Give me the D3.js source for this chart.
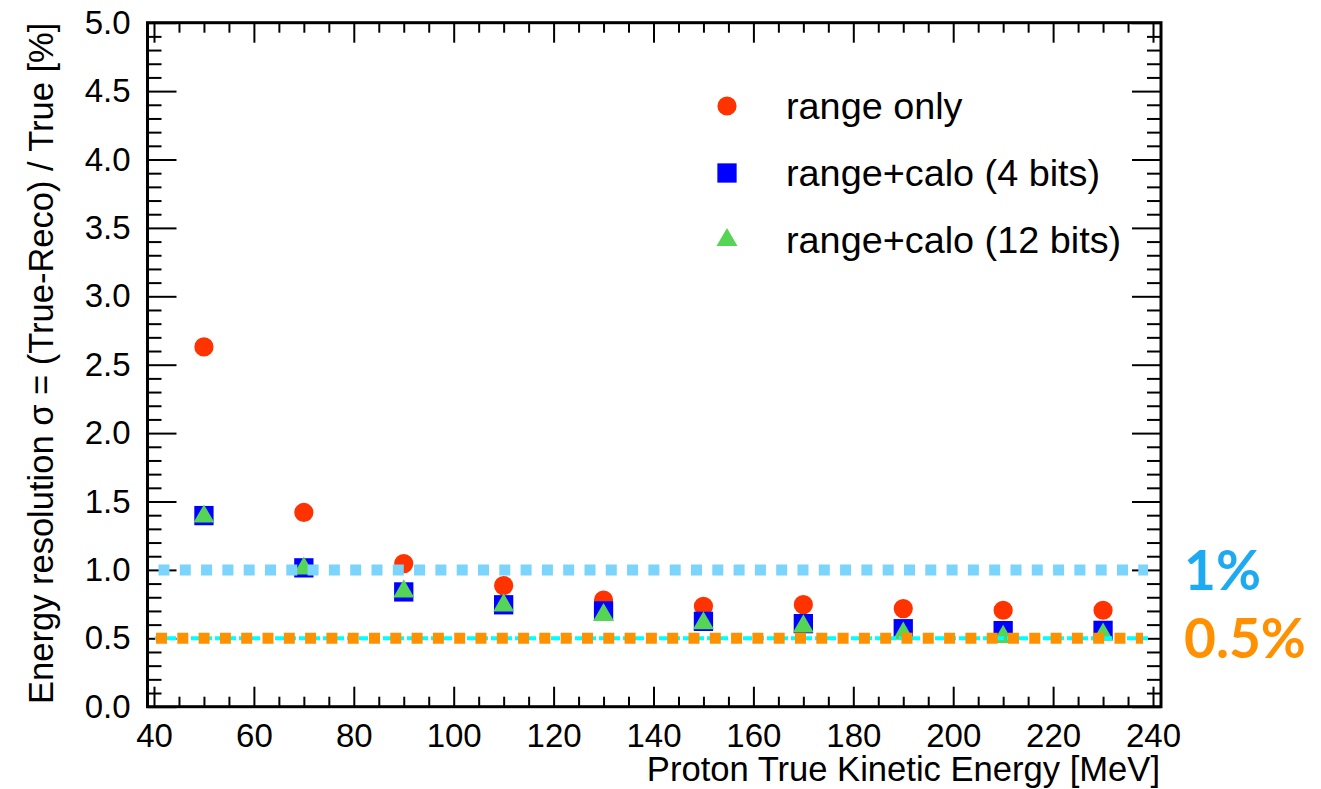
<!DOCTYPE html>
<html>
<head>
<meta charset="utf-8">
<script src="https://cdn.jsdelivr.net/npm/d3@7"></script>
<style>
  body { margin: 0; background: #fff; }
  svg { display: block; font-family: "Liberation Sans", Arial, sans-serif; }
</style>
</head>
<body>
<div id="chart"></div>
<script>
// Data
const energies = [50, 70, 90, 110, 130, 150, 170, 190, 210, 230];
const rangeOnly = [2.63, 1.42, 1.046, 0.885, 0.78, 0.734, 0.746, 0.717, 0.705, 0.705];
const calo4 = [1.397, 1.015, 0.839, 0.745, 0.70, 0.624, 0.607, 0.57, 0.556, 0.558];
const calo12 = [1.39, 1.01, 0.843, 0.74, 0.67, 0.61, 0.587, 0.534, 0.51, 0.527];
const seriesNames = ["range only", "range+calo (4 bits)", "range+calo (12 bits)"];
const xTicks = [40, 60, 80, 100, 120, 140, 160, 180, 200, 220, 240];
const yTicks = [0, 0.5, 1, 1.5, 2, 2.5, 3, 3.5, 4, 4.5, 5];
const refLevels = [1.0, 0.5];
const refLabels = ["1%", "0.5%"];

const width = 1321;
const height = 789;
const margin = { top: 22.7, right: 160, bottom: 82.3, left: 147.5 };
const innerWidth = width - margin.left - margin.right;
const innerHeight = height - margin.top - margin.bottom;

const svg = d3.select("#chart")
    .append("svg")
    .attr("width", width)
    .attr("height", height);

const g = svg.append("g")
    .attr("transform", `translate(${margin.left},${margin.top})`);

const x = d3.scaleLinear().domain([38.7, 241.6]).range([0, innerWidth]);
const y = d3.scaleLinear().domain([0, 5]).range([innerHeight, 0]);

const xMinor = d3.range(40, 241, 5).filter(v => v % 20 !== 0);
const yMinor = d3.range(0, 51).map(v => v / 10).filter(v => Math.round(v * 10) % 5 !== 0);

function styleAxis(sel, labels) {
    sel.select(".domain").remove();
    sel.selectAll(".tick line").attr("stroke", "#000").attr("stroke-width", 2);
    if (labels) {
        sel.selectAll(".tick text").attr("fill", "#000").style("font-size", "33px");
    } else {
        sel.selectAll(".tick text").remove();
    }
}

// bottom axis with labels
g.append("g")
    .attr("transform", `translate(0,${innerHeight})`)
    .call(d3.axisBottom(x).tickValues(xTicks).tickSize(-20).tickPadding(17).tickFormat(d3.format("d")))
    .call(styleAxis, true);
g.append("g")
    .attr("transform", `translate(0,${innerHeight})`)
    .call(d3.axisBottom(x).tickValues(xMinor).tickSize(-10))
    .call(styleAxis, false);
// top axis
g.append("g")
    .call(d3.axisTop(x).tickValues(xTicks).tickSize(-20))
    .call(styleAxis, false);
g.append("g")
    .call(d3.axisTop(x).tickValues(xMinor).tickSize(-10))
    .call(styleAxis, false);
// left axis with labels
g.append("g")
    .call(d3.axisLeft(y).tickValues(yTicks).tickSize(-29).tickPadding(17).tickFormat(d3.format(".1f")))
    .call(styleAxis, true);
g.append("g")
    .call(d3.axisLeft(y).tickValues(yMinor).tickSize(-14))
    .call(styleAxis, false);
// right axis
g.append("g")
    .attr("transform", `translate(${innerWidth},0)`)
    .call(d3.axisRight(y).tickValues(yTicks).tickSize(-29))
    .call(styleAxis, false);
g.append("g")
    .attr("transform", `translate(${innerWidth},0)`)
    .call(d3.axisRight(y).tickValues(yMinor).tickSize(-14))
    .call(styleAxis, false);

// frame
g.append("rect")
    .attr("width", innerWidth)
    .attr("height", innerHeight)
    .attr("fill", "none")
    .attr("stroke", "#000")
    .attr("stroke-width", 3);

// axis titles
svg.append("text")
    .attr("x", margin.left + innerWidth - 1)
    .attr("y", 781)
    .attr("text-anchor", "end")
    .style("font-size", "34.6px")
    .text("Proton True Kinetic Energy [MeV]");

svg.append("text")
    .attr("transform", `translate(53,${margin.top}) rotate(-90)`)
    .attr("text-anchor", "end")
    .style("font-size", "34.5px")
    .text("Energy resolution \u03c3 = (True-Reco) / True [%]");

// markers
const colors = ["#ff3300", "#0000ff", "#55d455"];
const symbols = [d3.symbolCircle, d3.symbolSquare, d3.symbolTriangle];
const sizes = [290, 372, 190];
const allSeries = [rangeOnly, calo4, calo12];

allSeries.forEach((vals, i) => {
    g.selectAll(`.m${i}`)
        .data(vals)
        .enter()
        .append("path")
        .attr("class", `m${i}`)
        .attr("transform", (d, j) => `translate(${x(energies[j])},${y(d)})`)
        .attr("d", d3.symbol().type(symbols[i]).size(sizes[i]))
        .attr("fill", colors[i]);
});

// reference lines
// cyan thin line under the 0.5% line
g.append("line")
    .attr("x1", x(40.2)).attr("x2", x(239.3))
    .attr("y1", y(refLevels[1])).attr("y2", y(refLevels[1]))
    .attr("stroke", "#00ffff")
    .attr("stroke-width", 4)
    .attr("stroke-dasharray", "9,3");

g.append("line")
    .attr("x1", x(40.9)).attr("x2", x(239))
    .attr("y1", y(refLevels[0])).attr("y2", y(refLevels[0]))
    .attr("stroke", "#7ad4fc")
    .attr("stroke-width", 11)
    .attr("stroke-dasharray", "11,10.3");

g.append("line")
    .attr("x1", x(40.4)).attr("x2", x(238))
    .attr("y1", y(refLevels[1])).attr("y2", y(refLevels[1]))
    .attr("stroke", "#ff9100")
    .attr("stroke-width", 11)
    .attr("stroke-dasharray", "11,10.3");

// legend
const legend = svg.append("g");
const legendY = [106, 173, 240];
seriesNames.forEach((name, i) => {
    legend.append("path")
        .attr("transform", `translate(727,${legendY[i]})`)
        .attr("d", d3.symbol().type(symbols[i]).size(sizes[i]))
        .attr("fill", colors[i]);
    legend.append("text")
        .attr("x", 786)
        .attr("y", legendY[i])
        .attr("dy", "0.35em")
        .style("font-size", "37.8px")
        .text(name);
});

// right-hand labels
const refColors = ["#1eaaf1", "#ff9100"];
refLabels.forEach((lab, i) => {
    svg.append("text")
        .attr("x", 1184)
        .attr("y", margin.top + y(refLevels[i]))
        .attr("dy", "0.36em")
        .attr("fill", refColors[i])
        .style("font-family", "Lato, 'Open Sans', sans-serif")
        .style("font-weight", "bold")
        .style("font-size", "55px")
        .text(lab);
});
</script>
</body>
</html>
